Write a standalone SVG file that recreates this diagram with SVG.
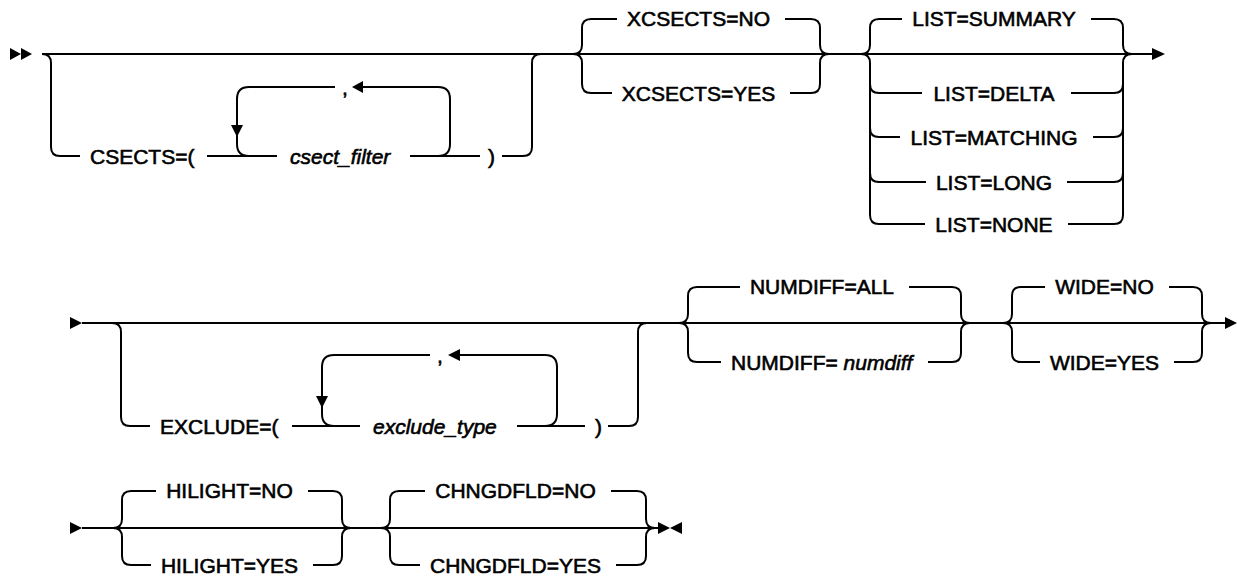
<svg xmlns="http://www.w3.org/2000/svg" width="1237" height="579" viewBox="0 0 1237 579">
<style>
.ln{fill:none;stroke:#000;stroke-width:2}
.ah{fill:#000;stroke:none}
.t{font-family:"Liberation Sans",Arial,Helvetica,sans-serif;font-size:21px;fill:#000;stroke:#000;stroke-width:0.6}
.i{font-style:italic}
.m{text-anchor:middle}
</style>
<rect width="1237" height="579" fill="#fff"/>
<g id="connectors">
<polygon class="ah" points="10,48 10,60 21,54"/>
<polygon class="ah" points="21,48 21,60 32,54"/>
<path class="ln" d="M42,54 H1152"/>
<polygon class="ah" points="1152,48 1152,60 1165,54"/>
<polygon class="ah" points="70,317 70,329 82,323"/>
<path class="ln" d="M82,323 H1226"/>
<polygon class="ah" points="1225,317 1225,329 1237,323"/>
<polygon class="ah" points="70,522 70,534 82,528"/>
<path class="ln" d="M82,528 H658"/>
<polygon class="ah" points="658,522 658,534 670,528"/>
<polygon class="ah" points="682,522 682,534 670,528"/>
</g>
<g id="csects">
<path class="ln" d="M42,54 Q51,54 51,63 V147 Q51,156 60,156 H80"/>
<text class="t" x="90" y="163.5">CSECTS=(</text>
<path class="ln" d="M207,156 H277"/>
<path class="ln" d="M249,156 Q237,156 237,144 V99 Q237,87 249,87 H335"/>
<polygon class="ah" points="231,125 243,125 237,137"/>
<text class="t" x="342" y="94.5">,</text>
<polygon class="ah" points="363,81 363,93 352,87"/>
<path class="ln" d="M363,87 H438 Q450,87 450,99 V144 Q450,156 438,156"/>
<text class="t i" x="290" y="163.5">csect_filter</text>
<path class="ln" d="M410,156 H480"/>
<text class="t" x="488" y="163.5">)</text>
<path class="ln" d="M502,156 H523 Q532,156 532,147 V63 Q532,54 541,54"/>
</g>
<g id="xcsects">
<path class="ln" d="M573,54 Q582,54 582,45 V28 Q582,19 591,19 H617"/>
<path class="ln" d="M573,54 Q582,54 582,63 V84 Q582,93 591,93 H612"/>
<text class="t m" x="698.5" y="26">XCSECTS=NO</text>
<text class="t m" x="698.5" y="100.5">XCSECTS=YES</text>
<path class="ln" d="M785,19 H811 Q820,19 820,28 V45 Q820,54 829,54"/>
<path class="ln" d="M790,93 H811 Q820,93 820,84 V63 Q820,54 829,54"/>
</g>
<g id="list">
<path class="ln" d="M861,54 Q870,54 870,45 V28 Q870,19 879,19 H902"/>
<path class="ln" d="M861,54 Q870,54 870,63 V215 Q870,224 879,224 H925"/>
<path class="ln" d="M870,84 Q870,93 879,93 H922"/>
<path class="ln" d="M870,128 Q870,137 879,137 H900"/>
<path class="ln" d="M870,173 Q870,182 879,182 H926"/>
<text class="t m" x="994" y="26">LIST=SUMMARY</text>
<text class="t m" x="994" y="100.5">LIST=DELTA</text>
<text class="t m" x="994" y="144.5">LIST=MATCHING</text>
<text class="t m" x="994" y="189.5">LIST=LONG</text>
<text class="t m" x="994" y="231.5">LIST=NONE</text>
<path class="ln" d="M1091,19 H1114 Q1123,19 1123,28 V45 Q1123,54 1132,54"/>
<path class="ln" d="M1071,93 H1114 Q1123,93 1123,84"/>
<path class="ln" d="M1093,137 H1114 Q1123,137 1123,128"/>
<path class="ln" d="M1067,182 H1114 Q1123,182 1123,173"/>
<path class="ln" d="M1068,224 H1114 Q1123,224 1123,215 V63 Q1123,54 1132,54"/>
</g>
<g id="exclude">
<path class="ln" d="M112,323 Q121,323 121,332 V417 Q121,426 130,426 H150"/>
<text class="t" x="160" y="433.5">EXCLUDE=(</text>
<path class="ln" d="M292,426 H360"/>
<path class="ln" d="M334,426 Q322,426 322,414 V367 Q322,355 334,355 H430"/>
<polygon class="ah" points="316,396 328,396 322,408"/>
<text class="t" x="437" y="362.5">,</text>
<polygon class="ah" points="460,349 460,361 448,355"/>
<path class="ln" d="M460,355 H545 Q557,355 557,367 V414 Q557,426 545,426"/>
<text class="t i" x="373" y="433.5">exclude_type</text>
<path class="ln" d="M517,426 H585"/>
<text class="t" x="595" y="433.5">)</text>
<path class="ln" d="M608,426 H629 Q638,426 638,417 V332 Q638,323 647,323"/>
</g>
<g id="numdiff">
<path class="ln" d="M679,323 Q688,323 688,314 V296 Q688,287 697,287 H740"/>
<text class="t m" x="822" y="294">NUMDIFF=ALL</text>
<path class="ln" d="M909,287 H952 Q961,287 961,296 V314 Q961,323 970,323"/>
<path class="ln" d="M679,323 Q688,323 688,332 V353 Q688,362 697,362 H721"/>
<text class="t" x="731" y="369.5">NUMDIFF= <tspan class="i">numdiff</tspan></text>
<path class="ln" d="M928,362 H952 Q961,362 961,353 V332 Q961,323 970,323"/>
</g>
<g id="wide">
<path class="ln" d="M1003,323 Q1012,323 1012,314 V296 Q1012,287 1021,287 H1045"/>
<text class="t m" x="1104.5" y="294">WIDE=NO</text>
<path class="ln" d="M1169,287 H1193 Q1202,287 1202,296 V314 Q1202,323 1211,323"/>
<path class="ln" d="M1003,323 Q1012,323 1012,332 V353 Q1012,362 1021,362 H1040"/>
<text class="t m" x="1104.5" y="369.5">WIDE=YES</text>
<path class="ln" d="M1174,362 H1193 Q1202,362 1202,353 V332 Q1202,323 1211,323"/>
</g>
<g id="hilight">
<path class="ln" d="M113,528 Q122,528 122,519 V500 Q122,491 131,491 H156"/>
<text class="t m" x="229.5" y="498">HILIGHT=NO</text>
<path class="ln" d="M308,491 H333 Q342,491 342,500 V519 Q342,528 351,528"/>
<path class="ln" d="M113,528 Q122,528 122,537 V556 Q122,565 131,565 H151"/>
<text class="t m" x="229.5" y="572.5">HILIGHT=YES</text>
<path class="ln" d="M313,565 H333 Q342,565 342,556 V537 Q342,528 351,528"/>
</g>
<g id="chngdfld">
<path class="ln" d="M381,528 Q390,528 390,519 V500 Q390,491 399,491 H425"/>
<text class="t m" x="515.5" y="498">CHNGDFLD=NO</text>
<path class="ln" d="M611,491 H637 Q646,491 646,500 V519 Q646,528 655,528"/>
<path class="ln" d="M381,528 Q390,528 390,537 V556 Q390,565 399,565 H420"/>
<text class="t m" x="515.5" y="572.5">CHNGDFLD=YES</text>
<path class="ln" d="M616,565 H637 Q646,565 646,556 V537 Q646,528 655,528"/>
</g>
</svg>
